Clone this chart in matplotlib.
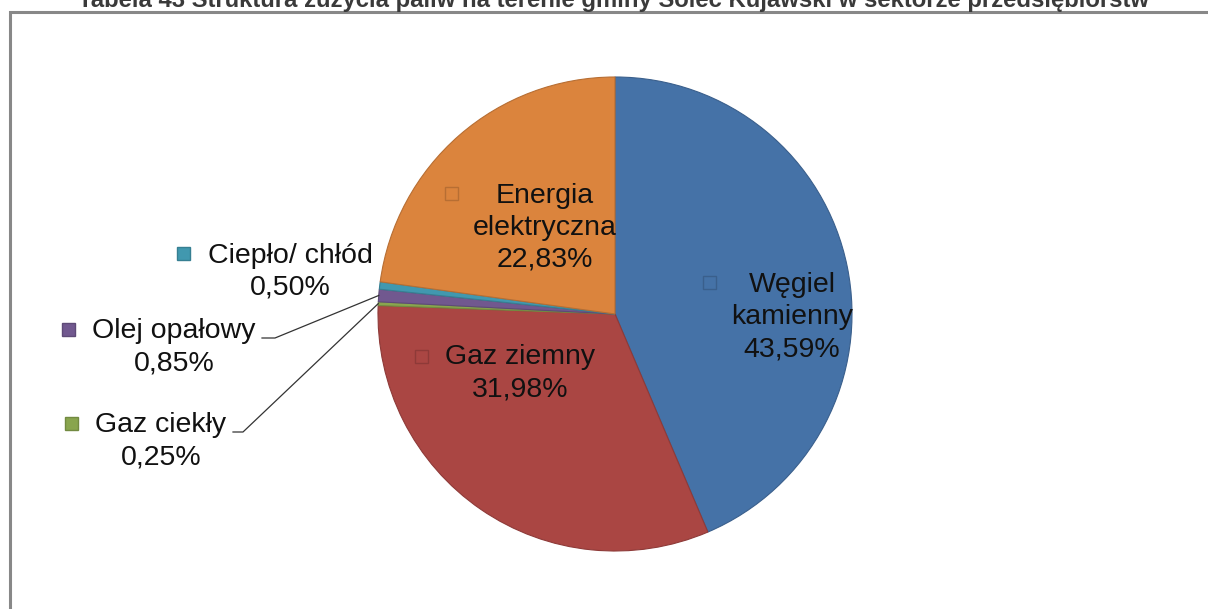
import numpy as np
import matplotlib
matplotlib.use("Agg")
import matplotlib.pyplot as plt
from matplotlib.patches import Rectangle

plt.rcParams['font.family'] = ['Liberation Sans', 'DejaVu Sans']

# ---- data ----
categories = ["Węgiel\nkamienny", "Gaz ziemny", "Gaz ciekły", "Olej opałowy",
              "Ciepło/ chłód", "Energia\nelektryczna"]
values = [43.59, 31.98, 0.25, 0.85, 0.50, 22.83]
title = "Tabela 43 Struktura zużycia paliw na terenie gminy Solec Kujawski w sektorze przedsiębiorstw"

colors = ["#4572A7", "#AA4643", "#89A54E", "#71588F", "#4198AF", "#DB843D"]
edges = ["#3a5f8c", "#8e3a38", "#728a41", "#5e4a77", "#367f92", "#b76e33"]

W, H = 1208, 609
fig = plt.figure(figsize=(W / 100, H / 100), dpi=100)
ax = fig.add_axes([0, 0, 1, 1])

def Y(py):
    return H - py

cx, cy, R = 615, Y(314), 237
wedges, _ = ax.pie(values, colors=colors, startangle=90, counterclock=False,
                   center=(cx, cy), radius=R,
                   wedgeprops=dict(linewidth=0.8))
for w, ec in zip(wedges, edges):
    w.set_edgecolor(ec)

ax.set_xlim(0, W)
ax.set_ylim(0, H)
ax.set_aspect('equal')
ax.axis('off')

# label layout: (text center x, text center y in px), key square (x, y) in px
label_pos = [(792, 317), (520, 373), (161, 441), (174, 347), (290, 272), (545, 228)]
key_pos = [(709, 282), (421, 356), (71, 423), (68, 329), (183, 253), (451, 193)]
ks = 13
for i, (cat, val) in enumerate(zip(categories, values)):
    txt = f"{cat}\n{val:.2f}%".replace(".", ",")
    lx, ly = label_pos[i]
    ax.text(lx, Y(ly), txt, ha='center', va='center', multialignment='center',
            fontsize=20.5, color='#111111', linespacing=1.3)
    kx, ky = key_pos[i]
    ax.add_patch(Rectangle((kx - ks / 2, Y(ky) - ks / 2), ks, ks,
                           facecolor=colors[i], edgecolor=edges[i], lw=1.0, zorder=5))

# leader lines for the thin slices
cum = np.cumsum([0] + values[:-1])
total = sum(values)
leaders = {2: (233, 243, 432), 3: (262, 275, 338)}
for i, (x0, x1, py) in leaders.items():
    mid = cum[i] + values[i] / 2
    ang = np.deg2rad(90 - mid / total * 360)
    ex, ey = cx + R * np.cos(ang), cy + R * np.sin(ang)
    ax.plot([x0, x1, ex], [Y(py), Y(py), ey], color='#333333', lw=0.9, zorder=6)

# chart border (partially visible)
ax.plot([9.5, 9.5, W + 5], [-5, Y(11.8), Y(11.8)], color='#888888', lw=2.2,
        clip_on=False, solid_joinstyle='miter')

fig.text(614 / W, (H - 6.5) / H, title, ha='center', va='baseline',
         fontsize=17.2, fontweight='bold', color='#3a3a3a')

fig.savefig("out.png", dpi=100)
